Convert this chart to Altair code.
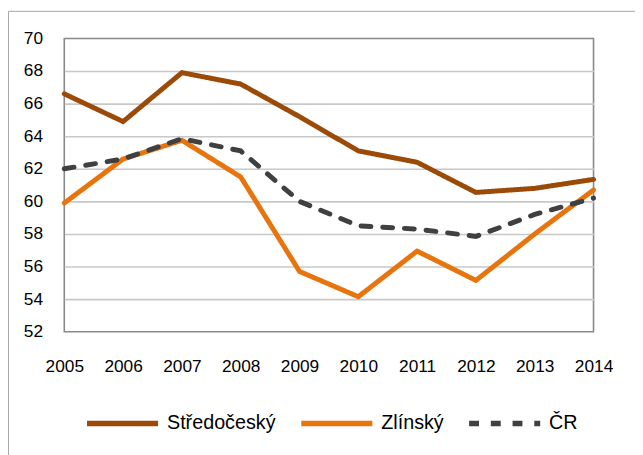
import altair as alt
import pandas as pd

years = [2005, 2006, 2007, 2008, 2009, 2010, 2011, 2012, 2013, 2014]
series_names = ["Středočeský", "Zlínský", "ČR"]
stredocesky = [66.6, 64.9, 67.9, 67.2, 65.2, 63.1, 62.4, 60.55, 60.8, 61.35]
zlinsky = [59.9, 62.6, 63.75, 61.5, 55.7, 54.15, 56.95, 55.15, 58.0, 60.7]
cr = [62.0, 62.6, 63.85, 63.1, 60.0, 58.5, 58.3, 57.85, 59.2, 60.2]
y_ticks = [52, 54, 56, 58, 60, 62, 64, 66, 68, 70]
colors = ["#9C4A08", "#E8740E", "#404040"]
dashes = [[1, 0], [1, 0], [10, 12]]

rows = []
for name, vals in zip(series_names, [stredocesky, zlinsky, cr]):
    for yr, v in zip(years, vals):
        rows.append({"year": yr, "series": name, "value": v})
df = pd.DataFrame(rows)

FONT = "Liberation Sans"

lines = alt.Chart(df).mark_line(strokeWidth=5, strokeCap="round", strokeJoin="miter").encode(
    x=alt.X("year:Q", scale=alt.Scale(domain=[2005, 2014], nice=False, zero=False),
            axis=alt.Axis(values=years, format="d", title=None, grid=False, domain=False,
                          ticks=False, labelPadding=26, labelFontSize=17.5,
                          labelFlush=False, labelOverlap=False,
                          labelFont=FONT, labelColor="#000000")),
    y=alt.Y("value:Q", scale=alt.Scale(domain=[52, 70], nice=False, zero=False),
            axis=alt.Axis(values=y_ticks, title=None, domain=False, ticks=False,
                          labelPadding=22, labelFontSize=17.5, labelFont=FONT,
                          labelColor="#000000", gridWidth=1.6, labelFlush=False,
                          gridColor={"condition": {"test": "datum.value == 52 || datum.value == 70",
                                                   "value": "transparent"},
                                     "value": "#C8C8C8"})),
    color=alt.Color("series:N", scale=alt.Scale(domain=series_names, range=colors),
                    sort=series_names,
                    legend=alt.Legend(title=None)),
    strokeDash=alt.StrokeDash("series:N", scale=alt.Scale(domain=series_names, range=dashes),
                              sort=series_names,
                              legend=alt.Legend(title=None)),
)

frame_df = pd.DataFrame({"k": [0]})
frame_left = alt.Chart(frame_df).mark_rule(color="#A6A6A6", strokeWidth=1).encode(
    x=alt.value(-56.5), y=alt.value(-27.5), y2=alt.value(430))
frame_top = alt.Chart(frame_df).mark_rule(color="#A6A6A6", strokeWidth=1).encode(
    x=alt.value(-56.5), x2=alt.value(600), y=alt.value(-27.5))

chart = alt.layer(frame_left, frame_top, lines).properties(
    width=536, height=297,
    autosize=alt.AutoSizeParams(type="none"),
    padding={"left": 57, "top": 28, "right": 42, "bottom": 122},
    background="#FFFFFF",
).configure_view(
    stroke="#898989", strokeWidth=1.6
).configure_legend(
    orient="none", legendX=20, legendY=351, direction="horizontal", columns=3,
    symbolType="stroke", symbolSize=5184, symbolStrokeWidth=5.5,
    labelFont=FONT, labelFontSize=20, labelColor="#000000", labelOffset=6,
    columnPadding=14, padding=0, labelLimit=300,
)

chart.save("out.html", embed_options={"renderer": "svg", "actions": False})
